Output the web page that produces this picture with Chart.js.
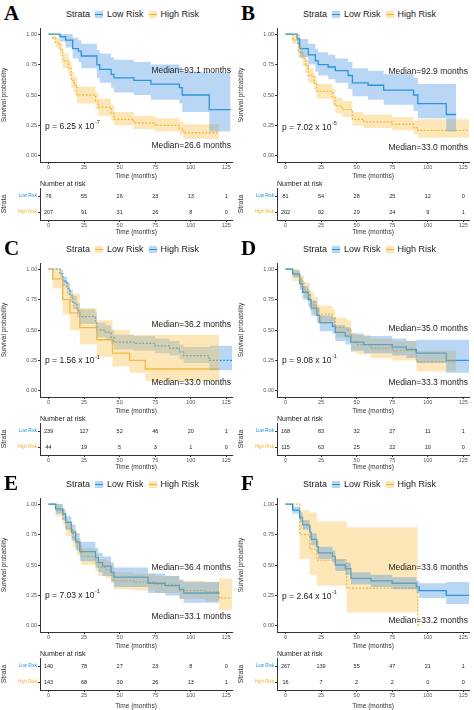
<!DOCTYPE html>
<html><head><meta charset="utf-8">
<script src="https://cdn.jsdelivr.net/npm/chart.js@4.4.1/dist/chart.umd.min.js"></script>
<style>
body{margin:0;background:#fff;width:474px;height:710px;overflow:hidden;position:relative;font-family:"Liberation Sans",Arial,sans-serif}
.panel{position:absolute;width:237px}
.panel canvas{position:absolute;left:0}
.letter{position:absolute;left:4px;top:1px;font:bold 21px "Liberation Serif",serif;color:#000}
.legend{position:absolute;left:66px;top:9px;font-size:9px;color:#222;white-space:nowrap;display:flex;align-items:center}
.ic{display:inline-block;width:8px;height:7px;margin:0 4px 0 5px;position:relative}
.ic i{position:absolute;left:0;right:0;top:3px;height:1.3px}
</style></head><body>
<script>
// ---------- DATA ----------
const riskTimes=[0,25,50,75,100,125];
const panelLetters=['A','B','C','D','E','F'];
const pLabels=['6.25','7.02','1.56','9.08','7.03','2.64'];
const pExps=['-7','-5','-1','-1','-1','-1'];
const medLow=['93.1','92.9','36.2','35.0','36.4','33.6'];
const medHigh=['26.6','33.0','33.0','33.3','33.1','33.2'];
// Panel A
const A_lowT=[0,8,12,17,21,23,34,36,44,46,60,72,92,94,113,128];
const A_lowS=[1,0.98,0.95,0.88,0.86,0.82,0.75,0.71,0.67,0.64,0.62,0.59,0.56,0.50,0.38,0.38];
const A_lowU=[1,1,1,0.97,0.95,0.92,0.87,0.84,0.81,0.79,0.77,0.75,0.73,0.69,0.68,0.68];
const A_lowL=[1,0.94,0.89,0.80,0.77,0.72,0.64,0.60,0.56,0.52,0.50,0.46,0.43,0.36,0.20,0.20];
const A_highT=[0,3,5,8,10,14,16,18,20,33,35,44,46,60,75,92,95,120];
const A_highS=[1,0.97,0.93,0.87,0.78,0.72,0.62,0.58,0.50,0.45,0.40,0.35,0.30,0.27,0.25,0.22,0.19,0.19];
const A_highU=[1,1,0.97,0.92,0.84,0.78,0.69,0.65,0.57,0.52,0.47,0.42,0.36,0.33,0.31,0.28,0.26,0.26];
const A_highL=[1,0.95,0.89,0.82,0.72,0.66,0.56,0.51,0.43,0.38,0.33,0.29,0.25,0.22,0.20,0.17,0.14,0.14];
// Panel B
const B_lowT=[0,8,10,16,21,23,30,35,44,47,58,69,90,93,113,120];
const B_lowS=[1,0.96,0.88,0.83,0.78,0.75,0.73,0.70,0.66,0.60,0.58,0.54,0.50,0.43,0.34,0.34];
const B_lowU=[1,1,0.96,0.92,0.88,0.85,0.83,0.80,0.77,0.72,0.70,0.67,0.64,0.59,0.59,0.59];
const B_lowL=[1,0.91,0.81,0.75,0.69,0.66,0.63,0.60,0.55,0.49,0.46,0.42,0.37,0.31,0.20,0.20];
const B_highT=[0,5,9,12,14,16,20,22,33,35,40,47,55,75,90,93,129];
const B_highS=[1,0.95,0.85,0.80,0.74,0.66,0.60,0.53,0.48,0.41,0.38,0.30,0.28,0.26,0.23,0.21,0.21];
const B_highU=[1,1,0.90,0.85,0.80,0.72,0.66,0.59,0.55,0.48,0.45,0.36,0.34,0.32,0.29,0.30,0.30];
const B_highL=[1,0.92,0.80,0.74,0.68,0.60,0.54,0.47,0.42,0.35,0.32,0.25,0.23,0.21,0.18,0.15,0.15];
// Panel C (Low = orange solid, High = blue dashed)
const C_lowT=[0,3,10,15,22,34,45,57,68,120];
const C_lowS=[1,0.92,0.75,0.64,0.52,0.42,0.31,0.25,0.18,0.18];
const C_lowU=[1,1,0.88,0.80,0.68,0.58,0.50,0.46,0.46,0.46];
const C_lowL=[1,0.84,0.63,0.50,0.38,0.28,0.20,0.15,0.08,0.08];
const C_highT=[0,8,10,13,15,17,20,22,33,34,40,44,46,60,75,85,92,95,113,129];
const C_highS=[1,0.96,0.90,0.84,0.78,0.72,0.66,0.61,0.57,0.50,0.48,0.44,0.40,0.39,0.37,0.35,0.32,0.29,0.25,0.25];
const C_highU=[1,0.99,0.94,0.89,0.83,0.78,0.72,0.67,0.63,0.56,0.54,0.50,0.46,0.45,0.43,0.41,0.38,0.36,0.37,0.37];
const C_highL=[1,0.93,0.86,0.79,0.73,0.67,0.60,0.55,0.51,0.44,0.42,0.38,0.34,0.33,0.31,0.29,0.26,0.23,0.17,0.17];
// Panel D
const D_lowT=[0,5,10,12,16,18,22,24,33,35,42,46,55,75,85,92,113,129];
const D_lowS=[1,0.96,0.88,0.81,0.75,0.68,0.62,0.56,0.53,0.48,0.45,0.40,0.38,0.36,0.34,0.31,0.25,0.25];
const D_lowU=[1,0.99,0.93,0.86,0.80,0.74,0.68,0.62,0.60,0.54,0.52,0.47,0.45,0.43,0.41,0.42,0.42,0.42];
const D_lowL=[1,0.93,0.83,0.75,0.69,0.62,0.56,0.49,0.47,0.41,0.38,0.33,0.31,0.29,0.27,0.23,0.15,0.15];
const D_highT=[0,5,10,13,17,20,23,33,35,43,46,50,60,75,92,120];
const D_highS=[1,0.95,0.90,0.83,0.74,0.70,0.63,0.60,0.52,0.50,0.40,0.38,0.35,0.33,0.24,0.24];
const D_highU=[1,1,0.95,0.89,0.81,0.77,0.70,0.67,0.60,0.58,0.48,0.46,0.43,0.41,0.33,0.33];
const D_highL=[1,0.90,0.84,0.76,0.66,0.62,0.55,0.52,0.44,0.42,0.32,0.30,0.27,0.25,0.16,0.16];
// Panel E
const E_lowT=[0,5,10,12,16,19,22,33,35,38,44,46,70,82,92,95,120];
const E_lowS=[1,0.96,0.92,0.85,0.77,0.69,0.61,0.56,0.52,0.49,0.44,0.40,0.35,0.33,0.30,0.27,0.27];
const E_lowU=[1,1,0.96,0.90,0.83,0.76,0.69,0.64,0.60,0.57,0.52,0.48,0.43,0.41,0.38,0.36,0.36];
const E_lowL=[1,0.92,0.87,0.79,0.70,0.62,0.53,0.48,0.44,0.41,0.36,0.32,0.27,0.25,0.22,0.19,0.19];
const E_highT=[0,5,10,12,17,20,23,33,35,40,44,46,60,75,92,110,120,129];
const E_highS=[1,0.95,0.88,0.80,0.72,0.65,0.57,0.52,0.48,0.46,0.42,0.37,0.36,0.34,0.29,0.28,0.23,0.23];
const E_highU=[1,1,0.93,0.86,0.79,0.72,0.64,0.59,0.55,0.53,0.49,0.44,0.43,0.41,0.37,0.36,0.39,0.39];
const E_highL=[1,0.90,0.83,0.74,0.65,0.58,0.50,0.45,0.41,0.39,0.35,0.30,0.29,0.27,0.22,0.20,0.13,0.13];
// Panel F
const F_lowT=[0,5,10,12,17,18,22,23,33,35,42,46,60,75,92,94,113,129];
const F_lowS=[1,0.95,0.89,0.83,0.77,0.71,0.65,0.60,0.57,0.50,0.47,0.39,0.37,0.35,0.32,0.29,0.25,0.25];
const F_lowU=[1,0.98,0.93,0.87,0.82,0.76,0.70,0.65,0.62,0.55,0.52,0.44,0.42,0.40,0.37,0.35,0.36,0.36];
const F_lowL=[1,0.92,0.85,0.79,0.72,0.66,0.60,0.55,0.52,0.45,0.42,0.34,0.32,0.30,0.27,0.23,0.18,0.18];
const F_highT=[0,10,17,22,43,93];
const F_highS=[1,0.75,0.63,0.54,0.31,0];
const F_highU=[1,0.95,0.93,0.86,0.81,0.81];
const F_highL=[1,0.55,0.42,0.33,0.11,0.11];
// Risk tables
const A_riskLow=[76,55,26,23,13,1], A_riskHigh=[207,91,31,26,8,0];
const B_riskLow=[81,54,28,25,12,0], B_riskHigh=[202,92,29,24,9,1];
const C_riskLow=[239,127,52,46,20,1], C_riskHigh=[44,19,5,3,1,0];
const D_riskLow=[168,83,32,27,11,1], D_riskHigh=[115,63,25,22,10,0];
const E_riskLow=[140,78,27,23,8,0], E_riskHigh=[143,68,30,26,13,1];
const F_riskLow=[267,139,55,47,21,1], F_riskHigh=[16,7,2,2,0,0];

// ---------- STYLE ----------
const BLUE='#1e94d2', ORANGE='#f0b232';
const BLUE_BAND='rgba(70,150,225,0.38)', ORANGE_BAND='rgba(250,196,80,0.40)';
const panels=[
 {low:[A_lowT,A_lowS,A_lowU,A_lowL],high:[A_highT,A_highS,A_highU,A_highL],rl:A_riskLow,rh:A_riskHigh,mh:0.70,ml:0.085,py:0.24},
 {low:[B_lowT,B_lowS,B_lowU,B_lowL],high:[B_highT,B_highS,B_highU,B_highL],rl:B_riskLow,rh:B_riskHigh,mh:0.69,ml:0.07,py:0.23},
 {low:[C_lowT,C_lowS,C_lowU,C_lowL],high:[C_highT,C_highS,C_highU,C_highL],rl:C_riskLow,rh:C_riskHigh,mh:0.54,ml:0.065,py:0.245,swap:true},
 {low:[D_lowT,D_lowS,D_lowU,D_lowL],high:[D_highT,D_highS,D_highU,D_highL],rl:D_riskLow,rh:D_riskHigh,mh:0.51,ml:0.07,py:0.25},
 {low:[E_lowT,E_lowS,E_lowU,E_lowL],high:[E_highT,E_highS,E_highU,E_highL],rl:E_riskLow,rh:E_riskHigh,mh:0.48,ml:0.076,py:0.25},
 {low:[F_lowT,F_lowS,F_lowU,F_lowL],high:[F_highT,F_highS,F_highU,F_highL],rl:F_riskLow,rh:F_riskHigh,mh:0.48,ml:0.04,py:0.24}
];
const rowTop=[0,235,470], rowH=[236,236,240];
const pts=(t,v)=>t.map((x,i)=>({x,y:v[i]}));
const xTicks=s=>{s.ticks=riskTimes.map(v=>({value:v}));};

panels.forEach((P,idx)=>{
  const col=idx%2,row=Math.floor(idx/2);
  const div=document.createElement('div');div.className='panel';
  div.style.left=(col*237)+'px';div.style.top=rowTop[row]+'px';div.style.height=rowH[row]+'px';
  document.body.appendChild(div);
  const lc=P.swap?ORANGE:BLUE, hc=P.swap?BLUE:ORANGE;
  const lb=P.swap?ORANGE_BAND:BLUE_BAND, hb=P.swap?BLUE_BAND:ORANGE_BAND;
  div.innerHTML=`<div class="letter">${panelLetters[idx]}</div>
  <div class="legend">Strata<span class="ic" style="background:${lb}"><i style="background:${lc}"></i></span>Low Risk<span class="ic" style="background:${hb}"><i style="background:${hc}"></i></span>High Risk</div>`;
  const c1=document.createElement('canvas');c1.style.top='0px';c1.width=237;c1.height=180;c1.style.width='237px';c1.style.height='180px';div.appendChild(c1);
  const th=rowH[row]-180;
  const c2=document.createElement('canvas');c2.style.top='180px';c2.width=237;c2.height=th;c2.style.width='237px';c2.style.height=th+'px';div.appendChild(c2);

  const band=(g,col)=>[
    {data:pts(g[0],g[2]),stepped:'before',borderWidth:0,pointRadius:0,backgroundColor:col,fill:'+1'},
    {data:pts(g[0],g[3]),stepped:'before',borderWidth:0,pointRadius:0,backgroundColor:col,fill:false}];
  const line=(g,col,dash)=>({data:pts(g[0],g[1]),stepped:'before',borderColor:col,borderWidth:1.3,borderDash:dash,pointRadius:0,fill:false});
  const txt={id:'txt',afterDatasetsDraw(ch){
    const {ctx,chartArea:a,scales:{x,y}}=ch;ctx.save();ctx.fillStyle='#222';
    ctx.font='8.5px "Liberation Sans",Arial';ctx.textAlign='right';ctx.textBaseline='middle';
    ctx.fillText('Median='+medLow[idx]+' months',a.right-1,y.getPixelForValue(P.mh));
    ctx.fillText('Median='+medHigh[idx]+' months',a.right-1,y.getPixelForValue(P.ml));
    ctx.textAlign='left';const px=a.left+5,py=y.getPixelForValue(P.py);
    const s='p = '+pLabels[idx]+' x 10';ctx.fillText(s,px,py);
    const w=ctx.measureText(s).width;ctx.font='5.5px "Liberation Sans",Arial';ctx.fillText(pExps[idx],px+w+0.5,py-4);
    ctx.restore();}};
  new Chart(c1,{type:'line',data:{datasets:[...band(P.low,lb),...band(P.high,hb),line(P.low,lc,[]),line(P.high,hc,[2,1.5])]},
    options:{responsive:false,animation:false,layout:{padding:{top:28,right:5}},
      plugins:{legend:{display:false},tooltip:{enabled:false}},
      scales:{
        x:{type:'linear',min:-6,max:129,afterBuildTicks:xTicks,afterFit:s=>{s.height=18},
          grid:{drawOnChartArea:false,tickLength:2,color:'#333'},border:{color:'#333'},
          ticks:{font:{size:5.5},color:'#555',padding:0,maxRotation:0},
          title:{display:true,text:'Time (months)',font:{size:6.5},color:'#333',padding:0}},
        y:{min:-0.05,max:1.05,afterBuildTicks:s=>{s.ticks=[0,0.25,0.5,0.75,1].map(v=>({value:v}))},afterFit:s=>{s.width=40},
          grid:{drawOnChartArea:false,tickLength:2,color:'#333'},border:{color:'#333'},
          ticks:{font:{size:5.5},color:'#555',padding:1,callback:v=>v.toFixed(2)},
          title:{display:true,text:'Survival probability',font:{size:6.5},color:'#333',padding:{top:0,bottom:4}}}}},
    plugins:[txt]});

  const tbl={id:'tbl',afterDatasetsDraw(ch){
    const {ctx,chartArea:a,scales:{x,y}}=ch;ctx.save();ctx.fillStyle='#222';ctx.textBaseline='middle';
    ctx.font='7px "Liberation Sans",Arial';ctx.textAlign='left';ctx.fillText('Number at risk',a.left,a.top-4);
    ctx.font='5.5px "Liberation Sans",Arial';ctx.textAlign='center';
    riskTimes.forEach((t,i)=>{ctx.fillText(String(P.rl[i]),x.getPixelForValue(t),y.getPixelForValue('Low Risk'));
      ctx.fillText(String(P.rh[i]),x.getPixelForValue(t),y.getPixelForValue('High Risk'));});
    ctx.restore();}};
  new Chart(c2,{type:'scatter',data:{datasets:[{data:[]}]},
    options:{responsive:false,animation:false,layout:{padding:{top:8,right:5}},
      plugins:{legend:{display:false},tooltip:{enabled:false}},
      scales:{
        x:{type:'linear',min:-6,max:129,afterBuildTicks:xTicks,afterFit:s=>{s.height=th-40},
          grid:{drawOnChartArea:false,tickLength:2,color:'#333'},border:{color:'#333'},
          ticks:{font:{size:5.5},color:'#555',padding:0,maxRotation:0},
          title:{display:true,text:'Time (months)',font:{size:6.5},color:'#333',padding:0}},
        y:{type:'category',labels:['Low Risk','High Risk'],offset:true,afterFit:s=>{s.width=40},
          grid:{drawOnChartArea:false,tickLength:2,color:'#333'},border:{color:'#333'},
          ticks:{font:{size:4.5},padding:1,color:c=>c.index===0?BLUE:ORANGE},
          title:{display:true,text:'Strata',font:{size:7},color:'#333',padding:{top:0,bottom:2}}}}},
    plugins:[tbl]});
});
</script>
</body></html>
